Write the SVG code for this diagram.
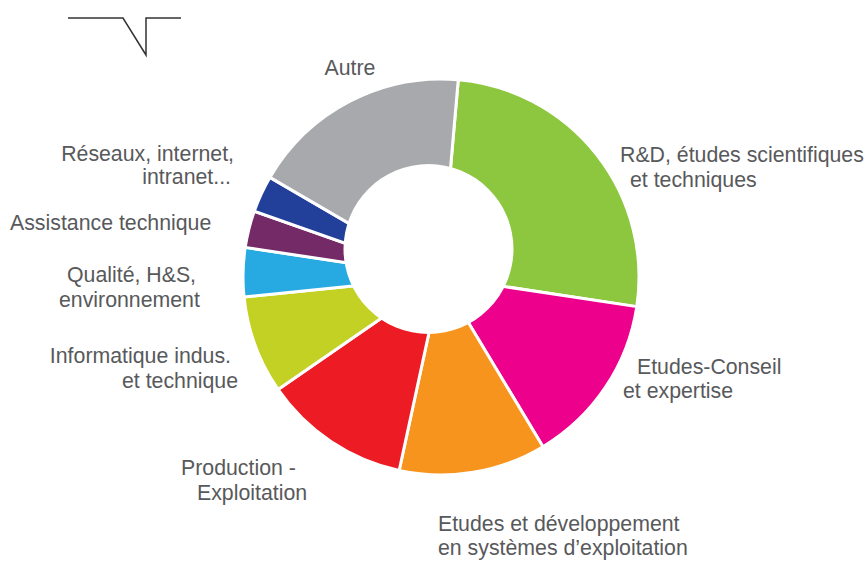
<svg xmlns="http://www.w3.org/2000/svg" width="868" height="561" viewBox="0 0 868 561">
<style>
.lbl{font-family:"Liberation Sans",Arial,Helvetica,sans-serif;font-size:21.3px;fill:#58595b}
.end{text-anchor:end}
.mid{text-anchor:middle}
.seg{stroke:#fff;stroke-width:3;stroke-linejoin:round}
</style>
<rect width="868" height="561" fill="#fff"/>
<g id="logo"><polyline points="68,18 123,18 146,55 146,18 181,18" fill="none" stroke="#333" stroke-width="1.5"/></g>
<g id="chart">
<path id="seg-rd" class="seg" fill="#8dc63f" d="M441,277 L458.26,79.75 A198,198 0 0 1 636.77,306.61 Z"/>
<path id="seg-conseil" class="seg" fill="#ec008c" d="M441,277 L636.77,306.61 A198,198 0 0 1 542.98,446.72 Z"/>
<path id="seg-dev" class="seg" fill="#f7941d" d="M441,277 L542.98,446.72 A198,198 0 0 1 399.16,470.53 Z"/>
<path id="seg-prod" class="seg" fill="#ed1c24" d="M441,277 L399.16,470.53 A198,198 0 0 1 278.0,389.41 Z"/>
<path id="seg-info" class="seg" fill="#c2d124" d="M441,277 L278.0,389.41 A198,198 0 0 1 244.01,297.01 Z"/>
<path id="seg-qual" class="seg" fill="#27aae1" d="M441,277 L244.01,297.01 A198,198 0 0 1 245.23,247.39 Z"/>
<path id="seg-assist" class="seg" fill="#742a67" d="M441,277 L245.23,247.39 A198,198 0 0 1 254.24,211.23 Z"/>
<path id="seg-res" class="seg" fill="#22409a" d="M441,277 L254.24,211.23 A198,198 0 0 1 269.87,177.40 Z"/>
<path id="seg-autre" class="seg" fill="#a7a9ac" d="M441,277 L269.87,177.40 A198,198 0 0 1 458.26,79.75 Z"/>
<circle id="hole" cx="428.5" cy="249" r="85" fill="#fff"/>
</g>
<g id="labels">
<text class="lbl mid" x="350" y="75">Autre</text>
<text class="lbl" x="620" y="162">R&amp;D, études scientifiques</text>
<text class="lbl" x="630" y="187">et techniques</text>
<text class="lbl" x="637" y="374">Etudes-Conseil</text>
<text class="lbl" x="623" y="398">et expertise</text>
<text class="lbl" x="438" y="531">Etudes et développement</text>
<text class="lbl" x="438" y="555">en systèmes d’exploitation</text>
<text class="lbl" x="181" y="475">Production -</text>
<text class="lbl" x="197" y="500">Exploitation</text>
<text class="lbl end" x="231" y="363">Informatique indus.</text>
<text class="lbl end" x="238" y="388">et technique</text>
<text class="lbl" x="67" y="282">Qualité, H&amp;S,</text>
<text class="lbl" x="59" y="307">environnement</text>
<text class="lbl" x="10" y="230">Assistance technique</text>
<text class="lbl end" x="234" y="161">Réseaux, internet,</text>
<text class="lbl end" x="231" y="184">intranet...</text>
</g>
</svg>
